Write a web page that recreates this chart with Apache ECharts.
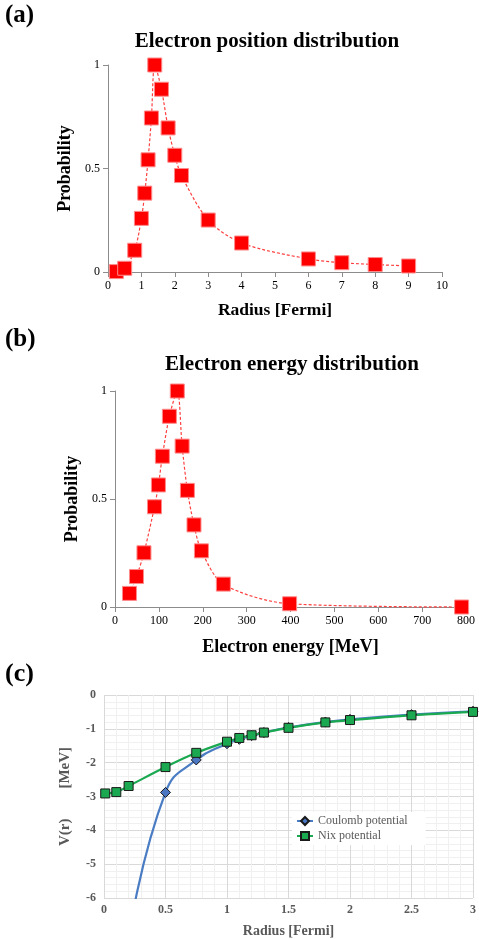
<!DOCTYPE html>
<html>
<head>
<meta charset="utf-8">
<script src="https://cdn.jsdelivr.net/npm/echarts@6/dist/echarts.min.js"></script>
<style>
  html, body { margin: 0; padding: 0; background: #fff; }
  #chart { width: 479px; height: 939px; }
</style>
</head>
<body>
<div id="chart"></div>
<script>
// (a) electron position distribution
var radiusA = [0.25, 0.5, 0.8, 1.0, 1.1, 1.2, 1.3, 1.4, 1.6, 1.8, 2.0, 2.2, 3, 4, 6, 7, 8, 9];
var probA = [0.002, 0.018, 0.105, 0.259, 0.381, 0.542, 0.744, 1.0, 0.883, 0.696, 0.564, 0.466, 0.251, 0.140, 0.063, 0.045, 0.036, 0.029];

// (b) electron energy distribution
var energyB = [33, 49, 66, 90, 99, 108, 124, 142, 153, 165, 180, 197, 247, 398, 790];
var probB = [0.063, 0.141, 0.251, 0.464, 0.565, 0.698, 0.883, 1.0, 0.745, 0.540, 0.380, 0.260, 0.106, 0.015, 0.0];

// (c) potentials
var radiusCoulomb = [0.2, 0.5, 0.75, 1.0, 1.1, 1.2, 1.3, 1.5, 1.8, 2.0, 2.5, 3.0];
var coulomb = [-7.2, -2.88, -1.92, -1.44, -1.31, -1.2, -1.11, -0.96, -0.8, -0.72, -0.58, -0.48];
var radiusNix = [0.01, 0.1, 0.2, 0.5, 0.75, 1.0, 1.1, 1.2, 1.3, 1.5, 1.8, 2.0, 2.5, 3.0];
var nix = [-2.91, -2.87, -2.69, -2.13, -1.71, -1.38, -1.27, -1.19, -1.11, -0.97, -0.81, -0.74, -0.60, -0.50];

function pairs(xs, ys) {
  return xs.map(function (x, i) { return [x, ys[i]]; });
}

var serif = 'Liberation Serif';
var mychart = echarts.init(document.getElementById('chart'));

var probAxisLine = { lineStyle: { color: '#8c8c8c', width: 1 } };
var probLabel = { color: '#000', fontFamily: serif, fontSize: 12 };
var probName = { color: '#000', fontFamily: serif, fontSize: 18, fontWeight: 'bold' };
var gridLabel = { color: '#595959', fontFamily: serif, fontSize: 12, fontWeight: 'bold' };

var redSeries = {
  type: 'line',
  smooth: 0.3,
  clip: false,
  symbol: 'rect',
  symbolSize: 14,
  itemStyle: { color: '#ff0000', borderColor: '#ff8a8a', borderWidth: 1 },
  lineStyle: { color: '#ff4040', width: 1.2, type: [3, 2] }
};

var option = {
  animation: false,
  backgroundColor: '#fff',
  graphic: [
    { type: 'text', x: 5, y: 16, style: { text: '(a)', fontFamily: serif, fontSize: 25, fontWeight: 'bold', fill: '#000', verticalAlign: 'middle' } },
    { type: 'text', x: 267, y: 42, style: { text: 'Electron position distribution', fontFamily: serif, fontSize: 21, fontWeight: 'bold', fill: '#000', align: 'center', verticalAlign: 'middle' } },
    { type: 'text', x: 5, y: 340, style: { text: '(b)', fontFamily: serif, fontSize: 25, fontWeight: 'bold', fill: '#000', verticalAlign: 'middle' } },
    { type: 'text', x: 292, y: 365, style: { text: 'Electron energy distribution', fontFamily: serif, fontSize: 21, fontWeight: 'bold', fill: '#000', align: 'center', verticalAlign: 'middle' } },
    { type: 'text', x: 5, y: 674, style: { text: '(c)', fontFamily: serif, fontSize: 26, fontWeight: 'bold', fill: '#000', verticalAlign: 'middle' } }
  ],
  grid: [
    { left: 108, top: 65, width: 334, height: 207 },
    { left: 115, top: 391, width: 351, height: 216 },
    { left: 104, top: 695, width: 373, height: 204 }
  ],
  xAxis: [
    {
      gridIndex: 0, type: 'value', min: 0, max: 10, interval: 1,
      name: 'Radius [Fermi]', nameLocation: 'middle', nameGap: 29,
      nameTextStyle: Object.assign({}, probName, { fontSize: 17.5 }),
      axisLine: probAxisLine, axisTick: { show: true, length: 5, lineStyle: { color: '#8c8c8c' } },
      axisLabel: probLabel, splitLine: { show: false }
    },
    {
      gridIndex: 1, type: 'value', min: 0, max: 800, interval: 100,
      name: 'Electron energy [MeV]', nameLocation: 'middle', nameGap: 31, nameTextStyle: probName,
      axisLine: probAxisLine, axisTick: { show: true, length: 5, lineStyle: { color: '#8c8c8c' } },
      axisLabel: probLabel, splitLine: { show: false }
    },
    {
      gridIndex: 2, type: 'value', min: 0, max: 3, interval: 0.5,
      name: 'Radius [Fermi]', nameLocation: 'middle', nameGap: 26,
      nameTextStyle: { color: '#595959', fontFamily: serif, fontSize: 14, fontWeight: 'bold' },
      axisLine: { show: false }, axisTick: { show: false },
      axisLabel: Object.assign({ margin: 6 }, gridLabel),
      splitLine: { show: true, lineStyle: { color: '#d9d9d9' } },
      minorTick: { show: false, splitNumber: 5 },
      minorSplitLine: { show: true, lineStyle: { color: '#f0f0f0' } }
    }
  ],
  yAxis: [
    {
      gridIndex: 0, type: 'value', min: 0, max: 1, interval: 0.5,
      name: 'Probability', nameLocation: 'middle', nameGap: 30, nameTextStyle: probName,
      axisLine: { show: true, lineStyle: { color: '#8c8c8c' } },
      axisTick: { show: true, length: 5, lineStyle: { color: '#8c8c8c' } },
      axisLabel: probLabel, splitLine: { show: false }
    },
    {
      gridIndex: 1, type: 'value', min: 0, max: 1, interval: 0.5,
      name: 'Probability', nameLocation: 'middle', nameGap: 34, nameTextStyle: probName,
      axisLine: { show: true, lineStyle: { color: '#8c8c8c' } },
      axisTick: { show: true, length: 5, lineStyle: { color: '#8c8c8c' } },
      axisLabel: probLabel, splitLine: { show: false }
    },
    {
      gridIndex: 2, type: 'value', min: -6, max: 0, interval: 1,
      name: 'V(r)        [MeV]', nameLocation: 'middle', nameGap: 31,
      nameTextStyle: { color: '#595959', fontFamily: serif, fontSize: 15, fontWeight: 'bold' },
      axisLine: { show: false }, axisTick: { show: false },
      axisLabel: Object.assign({ margin: 8 }, gridLabel),
      splitLine: { show: true, lineStyle: { color: '#d9d9d9' } },
      minorTick: { show: false, splitNumber: 5 },
      minorSplitLine: { show: true, lineStyle: { color: '#f0f0f0' } }
    }
  ],
  legend: {
    show: true,
    data: ['Coulomb potential', 'Nix potential'],
    orient: 'vertical',
    left: 292, top: 812,
    padding: [3, 18, 3, 4],
    itemGap: 3,
    itemWidth: 16, itemHeight: 10,
    backgroundColor: '#fff',
    textStyle: { color: '#595959', fontFamily: serif, fontSize: 12 }
  },
  series: [
    Object.assign({}, redSeries, { name: 'pos', xAxisIndex: 0, yAxisIndex: 0, data: pairs(radiusA, probA) }),
    Object.assign({}, redSeries, { name: 'energy', xAxisIndex: 1, yAxisIndex: 1, data: pairs(energyB, probB) }),
    {
      name: 'Coulomb potential', type: 'line', xAxisIndex: 2, yAxisIndex: 2,
      data: pairs(radiusCoulomb, coulomb),
      smooth: 0.5, clip: true,
      symbol: 'diamond', symbolSize: 10,
      itemStyle: { color: '#4a76c2', borderColor: '#1a1a1a', borderWidth: 1 },
      lineStyle: { color: '#4a7cc4', width: 2.2 }
    },
    {
      name: 'Nix potential', type: 'line', xAxisIndex: 2, yAxisIndex: 2,
      data: pairs(radiusNix, nix),
      smooth: 0.3, clip: false,
      symbol: 'rect', symbolSize: 9,
      itemStyle: { color: '#1aa850', borderColor: '#1a1a1a', borderWidth: 1 },
      lineStyle: { color: '#1aa850', width: 2.2 }
    }
  ]
};

mychart.setOption(option);
</script>
</body>
</html>
